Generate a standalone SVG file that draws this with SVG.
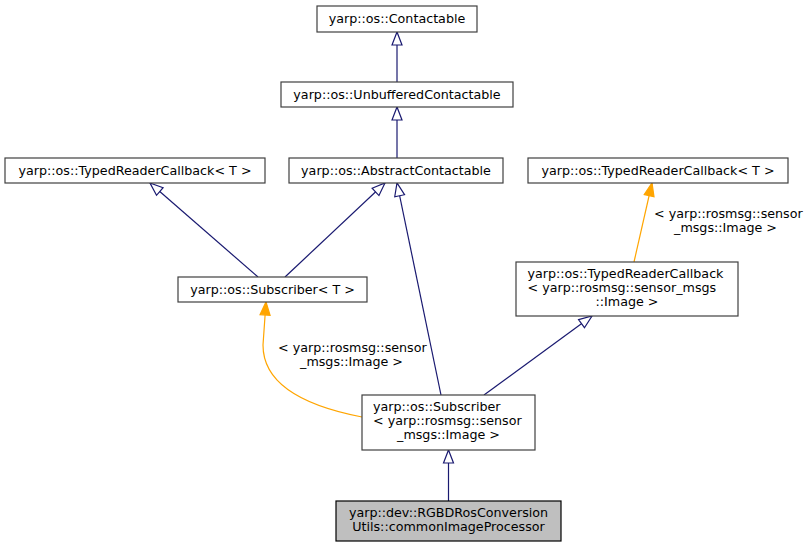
<svg xmlns="http://www.w3.org/2000/svg" width="810" height="547" viewBox="0 0 810 547">
<style>
  .box { fill: #ffffff; stroke: #404040; stroke-width: 1.2; }
  .hl { fill: #bfbfbf; stroke: #000000; stroke-width: 1.2; }
  text { font-family: "DejaVu Sans", "Liberation Sans", sans-serif; font-size: 12.7px; fill: #000000; }
  .c { text-anchor: middle; }
  .inh { fill: none; stroke: #191970; stroke-width: 1.2; marker-end: url(#hollow); }
  .tpl { fill: none; stroke: #ffa500; stroke-width: 1.2; marker-end: url(#filled); }
</style>
<defs>
  <marker id="hollow" markerUnits="userSpaceOnUse" viewBox="0 0 13 10" refX="13" refY="5" markerWidth="13" markerHeight="10" orient="auto" overflow="visible">
    <path d="M0,0 L13,5 L0,10 Z" fill="#ffffff" stroke="#191970" stroke-width="1.2"/>
  </marker>
  <marker id="filled" markerUnits="userSpaceOnUse" viewBox="0 0 13 10" refX="13" refY="5" markerWidth="13" markerHeight="10" orient="auto" overflow="visible">
    <path d="M0,0 L13,5 L0,10 Z" fill="#ffa500" stroke="#ffa500" stroke-width="1.2"/>
  </marker>
</defs>
<rect width="810" height="547" fill="#ffffff"/>
<g id="connectors">
  <path class="inh" d="M397,82 L397,32"/>
  <path class="inh" d="M397,158 L397,107"/>
  <path class="inh" d="M258,277 L150,183"/>
  <path class="inh" d="M285,277 L385,183"/>
  <path class="inh" d="M441,395 L397,183"/>
  <path class="inh" d="M484,395 L592,316"/>
  <path class="inh" d="M448.5,501 L448.5,450"/>
  <path class="tpl" d="M634,262 L652,183"/>
  <path class="tpl" d="M362,417 C305,406 263,385 263,345 L266,302"/>
  <text x="654" y="218">&lt; yarp::rosmsg::sensor</text>
  <text class="c" x="725.5" y="232">_msgs::Image &gt;</text>
  <text x="278" y="352">&lt; yarp::rosmsg::sensor</text>
  <text class="c" x="351.5" y="366">_msgs::Image &gt;</text>
</g>
<g id="node_contactable">
  <rect class="box" x="317" y="6" width="160" height="26"/>
  <text class="c" x="397" y="22.5">yarp::os::Contactable</text>
</g>
<g id="node_unbuffered">
  <rect class="box" x="281" y="82" width="232" height="25"/>
  <text class="c" x="397" y="98.5">yarp::os::UnbufferedContactable</text>
</g>
<g id="node_abstract">
  <rect class="box" x="289" y="158" width="214" height="25"/>
  <text class="c" x="396" y="174.5">yarp::os::AbstractContactable</text>
</g>
<g id="node_trc_left">
  <rect class="box" x="5" y="158" width="260" height="25"/>
  <text class="c" x="135" y="174.5">yarp::os::TypedReaderCallback&lt; T &gt;</text>
</g>
<g id="node_trc_right">
  <rect class="box" x="528" y="158" width="260" height="25"/>
  <text class="c" x="658" y="174.5">yarp::os::TypedReaderCallback&lt; T &gt;</text>
</g>
<g id="node_subscriber_t">
  <rect class="box" x="178" y="277" width="189" height="25"/>
  <text class="c" x="272.5" y="293.5">yarp::os::Subscriber&lt; T &gt;</text>
</g>
<g id="node_trc_image">
  <rect class="box" x="516" y="262" width="222" height="54"/>
  <text x="527.5" y="278">yarp::os::TypedReaderCallback</text>
  <text x="527.5" y="292">&lt; yarp::rosmsg::sensor_msgs</text>
  <text class="c" x="627" y="306">::Image &gt;</text>
</g>
<g id="node_subscriber_image">
  <rect class="box" x="362" y="395" width="173" height="55"/>
  <text x="373" y="411">yarp::os::Subscriber</text>
  <text x="373" y="425">&lt; yarp::rosmsg::sensor</text>
  <text class="c" x="448.5" y="439">_msgs::Image &gt;</text>
</g>
<g id="node_common_image_processor">
  <rect class="hl" x="336" y="501" width="225" height="40"/>
  <text class="c" x="448.5" y="517">yarp::dev::RGBDRosConversion</text>
  <text class="c" x="448.5" y="531">Utils::commonImageProcessor</text>
</g>
</svg>
